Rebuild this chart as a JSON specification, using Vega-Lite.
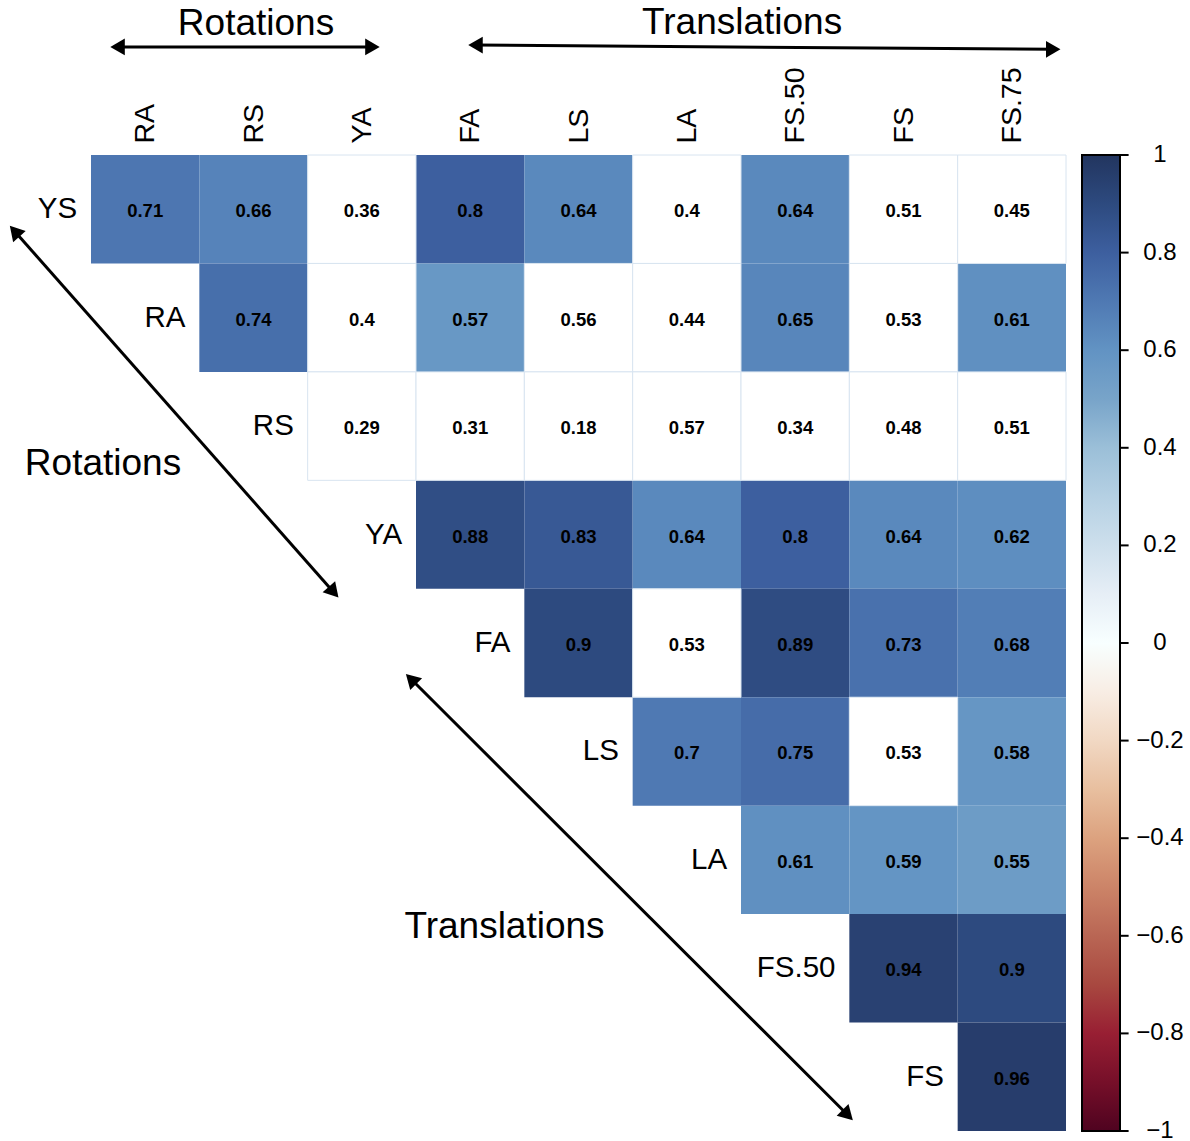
{
  "$schema": "https://vega.github.io/schema/vega-lite/v6.json",
  "autosize": "none",
  "padding": {"left": 91, "top": 155, "right": 124, "bottom": 10},
  "width": 975,
  "height": 976,
  "config": {"view": {"stroke": null}, "font": "Liberation Sans"},
  "datasets": {
    "cells": [
      {"row": "YS", "col": "RA", "r": 0.71, "sig": 1},
      {"row": "YS", "col": "RS", "r": 0.66, "sig": 1},
      {"row": "YS", "col": "YA", "r": 0.36, "sig": 0},
      {"row": "YS", "col": "FA", "r": 0.8, "sig": 1},
      {"row": "YS", "col": "LS", "r": 0.64, "sig": 1},
      {"row": "YS", "col": "LA", "r": 0.4, "sig": 0},
      {"row": "YS", "col": "FS.50", "r": 0.64, "sig": 1},
      {"row": "YS", "col": "FS", "r": 0.51, "sig": 0},
      {"row": "YS", "col": "FS.75", "r": 0.45, "sig": 0},
      {"row": "RA", "col": "RS", "r": 0.74, "sig": 1},
      {"row": "RA", "col": "YA", "r": 0.4, "sig": 0},
      {"row": "RA", "col": "FA", "r": 0.57, "sig": 1},
      {"row": "RA", "col": "LS", "r": 0.56, "sig": 0},
      {"row": "RA", "col": "LA", "r": 0.44, "sig": 0},
      {"row": "RA", "col": "FS.50", "r": 0.65, "sig": 1},
      {"row": "RA", "col": "FS", "r": 0.53, "sig": 0},
      {"row": "RA", "col": "FS.75", "r": 0.61, "sig": 1},
      {"row": "RS", "col": "YA", "r": 0.29, "sig": 0},
      {"row": "RS", "col": "FA", "r": 0.31, "sig": 0},
      {"row": "RS", "col": "LS", "r": 0.18, "sig": 0},
      {"row": "RS", "col": "LA", "r": 0.57, "sig": 0},
      {"row": "RS", "col": "FS.50", "r": 0.34, "sig": 0},
      {"row": "RS", "col": "FS", "r": 0.48, "sig": 0},
      {"row": "RS", "col": "FS.75", "r": 0.51, "sig": 0},
      {"row": "YA", "col": "FA", "r": 0.88, "sig": 1},
      {"row": "YA", "col": "LS", "r": 0.83, "sig": 1},
      {"row": "YA", "col": "LA", "r": 0.64, "sig": 1},
      {"row": "YA", "col": "FS.50", "r": 0.8, "sig": 1},
      {"row": "YA", "col": "FS", "r": 0.64, "sig": 1},
      {"row": "YA", "col": "FS.75", "r": 0.62, "sig": 1},
      {"row": "FA", "col": "LS", "r": 0.9, "sig": 1},
      {"row": "FA", "col": "LA", "r": 0.53, "sig": 0},
      {"row": "FA", "col": "FS.50", "r": 0.89, "sig": 1},
      {"row": "FA", "col": "FS", "r": 0.73, "sig": 1},
      {"row": "FA", "col": "FS.75", "r": 0.68, "sig": 1},
      {"row": "LS", "col": "LA", "r": 0.7, "sig": 1},
      {"row": "LS", "col": "FS.50", "r": 0.75, "sig": 1},
      {"row": "LS", "col": "FS", "r": 0.53, "sig": 0},
      {"row": "LS", "col": "FS.75", "r": 0.58, "sig": 1},
      {"row": "LA", "col": "FS.50", "r": 0.61, "sig": 1},
      {"row": "LA", "col": "FS", "r": 0.59, "sig": 1},
      {"row": "LA", "col": "FS.75", "r": 0.55, "sig": 1},
      {"row": "FS.50", "col": "FS", "r": 0.94, "sig": 1},
      {"row": "FS.50", "col": "FS.75", "r": 0.9, "sig": 1},
      {"row": "FS", "col": "FS.75", "r": 0.96, "sig": 1}
    ],
    "rowlabels": [
      {"row": "YS", "col": "RA"},
      {"row": "RA", "col": "RS"},
      {"row": "RS", "col": "YA"},
      {"row": "YA", "col": "FA"},
      {"row": "FA", "col": "LS"},
      {"row": "LS", "col": "LA"},
      {"row": "LA", "col": "FS.50"},
      {"row": "FS.50", "col": "FS"},
      {"row": "FS", "col": "FS.75"}
    ],
    "arrows": [
      {"grp": "rot_top", "ax": 0.245, "ay": -0.996, "angle": 270},
      {"grp": "rot_top", "ax": 2.598, "ay": -0.996, "angle": 90},
      {"grp": "tr_top", "ax": 3.549, "ay": -1.014, "angle": 270},
      {"grp": "tr_top", "ax": 8.882, "ay": -0.975, "angle": 90},
      {"grp": "rot_diag", "ax": -0.705, "ay": 0.703, "angle": 318.5},
      {"grp": "rot_diag", "ax": 2.24, "ay": 4.031, "angle": 138.5},
      {"grp": "tr_diag", "ax": 2.954, "ay": 4.832, "angle": 315},
      {"grp": "tr_diag", "ax": 6.985, "ay": 8.853, "angle": 135}
    ],
    "notes": [
      {"label": "Rotations", "ax": 1.523, "ay": -1.105},
      {"label": "Translations", "ax": 6.01, "ay": -1.112},
      {"label": "Rotations", "ax": 0.111, "ay": 2.951},
      {"label": "Translations", "ax": 3.817, "ay": 7.22}
    ],
    "cbticks": [
      {"v": 1, "ax": 9.541, "ay": 0},
      {"v": 0.8, "ax": 9.541, "ay": 0.9},
      {"v": 0.6, "ax": 9.541, "ay": 1.8},
      {"v": 0.4, "ax": 9.541, "ay": 2.7},
      {"v": 0.2, "ax": 9.541, "ay": 3.6},
      {"v": 0, "ax": 9.541, "ay": 4.5},
      {"v": -0.2, "ax": 9.541, "ay": 5.4},
      {"v": -0.4, "ax": 9.541, "ay": 6.3},
      {"v": -0.6, "ax": 9.541, "ay": 7.2},
      {"v": -0.8, "ax": 9.541, "ay": 8.1},
      {"v": -1, "ax": 9.541, "ay": 9}
    ]
  },
  "layer": [
    {
      "encoding": {
        "x": {
          "field": "col", "type": "nominal",
          "scale": {"domain": ["RA", "RS", "YA", "FA", "LS", "LA", "FS.50", "FS", "FS.75"], "paddingInner": 0, "paddingOuter": 0},
          "axis": {"orient": "top", "title": null, "domain": false, "ticks": false, "tickSize": 0, "grid": false, "labelAngle": 270, "labelAlign": "left", "labelBaseline": "middle", "labelPadding": 12, "labelFontSize": 28.5, "labelColor": "black", "labelFont": "Liberation Sans"}
        },
        "y": {
          "field": "row", "type": "nominal",
          "scale": {"domain": ["YS", "RA", "RS", "YA", "FA", "LS", "LA", "FS.50", "FS"], "paddingInner": 0, "paddingOuter": 0},
          "axis": null
        }
      },
      "layer": [
        {
          "data": {"name": "cells"},
          "transform": [{"filter": "datum.sig == 1"}],
          "mark": {"type": "rect"},
          "encoding": {
            "color": {
              "field": "r", "type": "quantitative",
              "scale": {
                "domain": [-1, -0.9, -0.8, -0.7, -0.6, -0.5, -0.4, -0.3, -0.2, -0.1, 0, 0.1, 0.2, 0.3, 0.4, 0.5, 0.6, 0.7, 0.8, 0.9, 1],
                "range": ["#4f0320", "#760f29", "#981f33", "#a84840", "#b96654", "#cc8468", "#dca27f", "#e8bf9f", "#f1d8c3", "#f8ede4", "#ffffff", "#e6eef6", "#cddfec", "#b5d0e3", "#9bbfd8", "#78a4c9", "#6293c3", "#4f79b3", "#3d5f9f", "#2d4a7f", "#22355f"]
              },
              "legend": {
                "title": null, "orient": "right", "offset": 16, "padding": 0,
                "gradientLength": 976, "gradientThickness": 38,
                "gradientStrokeColor": "black", "gradientStrokeWidth": 2,
                "values": [-1, -0.8, -0.6, -0.4, -0.2, 0, 0.2, 0.4, 0.6, 0.8, 1],
                "format": ".1~f",
                "labelFontSize": 24, "labelAlign": "center", "labelBaseline": "middle", "labelOffset": 40,
                "labelColor": "black", "labelFont": "Liberation Sans",
                "encode": {
                  "labels": {
                    "update": {
                      "align": {"value": "center"},
                      "baseline": {"value": "middle"}
                    }
                  }
                }
              }
            }
          }
        },
        {
          "data": {"name": "cells"},
          "transform": [{"filter": "datum.sig == 0"}],
          "mark": {"type": "rect", "fill": "white", "stroke": "#d8e4f0", "strokeWidth": 1}
        },
        {
          "data": {"name": "cells"},
          "mark": {"type": "text", "fontWeight": "bold", "fontSize": 18.5, "color": "black", "baseline": "middle", "dy": 2},
          "encoding": {"text": {"field": "r", "type": "quantitative", "format": "~g"}}
        },
        {
          "data": {"name": "rowlabels"},
          "mark": {"type": "text", "fontSize": 29.5, "align": "right", "baseline": "middle", "dx": -68, "color": "black"},
          "encoding": {"text": {"field": "row", "type": "nominal"}}
        }
      ]
    },
    {
      "encoding": {
        "x": {"field": "ax", "type": "quantitative", "scale": {"domain": [0, 9], "nice": false, "zero": false}, "axis": null},
        "y": {"field": "ay", "type": "quantitative", "scale": {"domain": [0, 9], "nice": false, "zero": false, "reverse": true}, "axis": null}
      },
      "layer": [
        {
          "data": {"name": "arrows"},
          "mark": {"type": "line", "strokeWidth": 3, "color": "black", "clip": false},
          "encoding": {"detail": {"field": "grp", "type": "nominal"}}
        },
        {
          "data": {"name": "arrows"},
          "mark": {"type": "point", "shape": "triangle-up", "filled": true, "size": 280, "color": "black", "opacity": 1},
          "encoding": {"angle": {"field": "angle", "type": "quantitative", "scale": null}}
        },
        {
          "data": {"name": "notes"},
          "mark": {"type": "text", "fontSize": 37, "baseline": "alphabetic", "align": "center", "color": "black"},
          "encoding": {"text": {"field": "label", "type": "nominal"}}
        },
        {
          "data": {"name": "cbticks"},
          "mark": {"type": "tick", "orient": "horizontal", "color": "black", "size": 8, "thickness": 2, "opacity": 1, "clip": false}
        }
      ]
    }
  ],
  "resolve": {"scale": {"x": "independent", "y": "independent"}}
}
